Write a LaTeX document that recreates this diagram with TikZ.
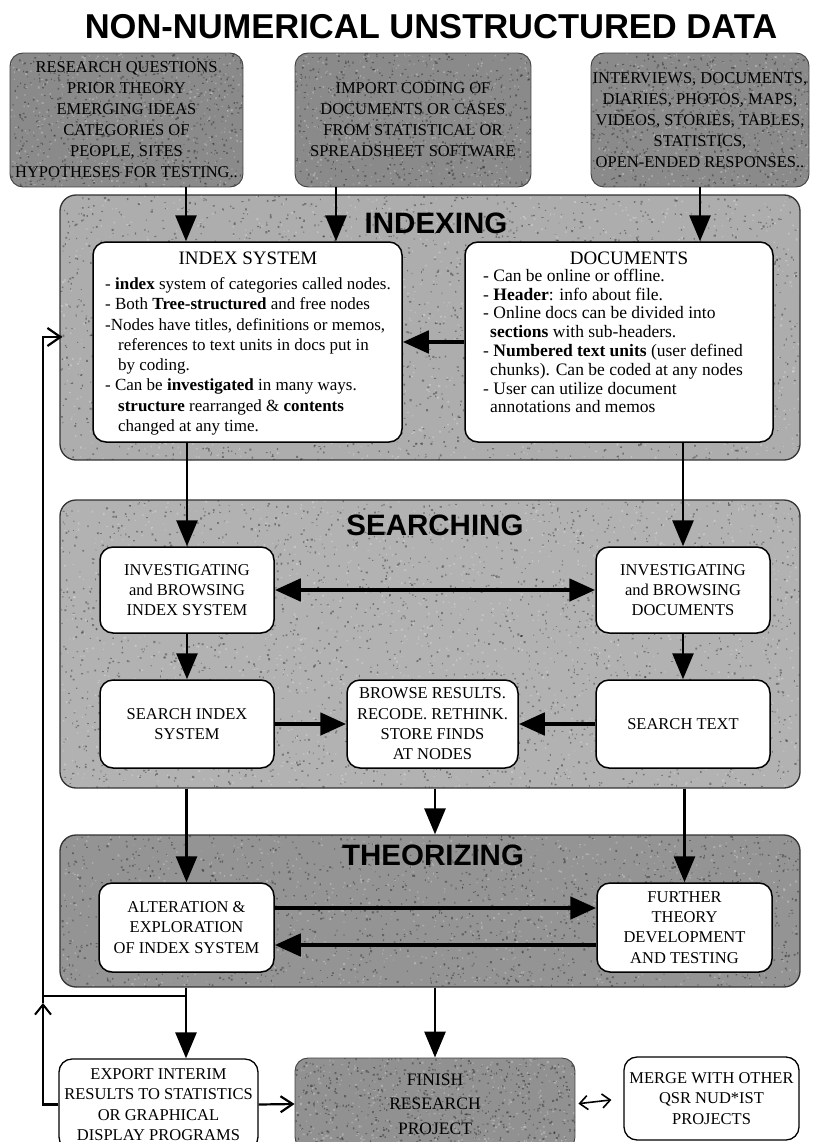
\documentclass[tikz,border=0pt]{standalone}
\usepackage{fontspec}
\setmainfont{Liberation Serif}
\newfontfamily\headfont{Liberation Sans}
\usetikzlibrary{arrows.meta,calc}

% fills
\definecolor{srcgray}{gray}{0.54}
\definecolor{idxgray}{gray}{0.68}
\definecolor{srchgray}{gray}{0.70}
\definecolor{thgray}{gray}{0.58}
\definecolor{fingray}{gray}{0.57}

% grainy halftone fill: corners (x0,y0) (x1,y1), colour, radius,
% batches of 200 dark specks, batches of 200 light specks
\newcommand\grainfill[8]{%
  \begin{scope}
    \clip[rounded corners=#6] (#1,#2) rectangle (#3,#4);
    \fill[#5] (#1,#2) rectangle (#3,#4);
    \foreach \c in {1,...,#7}{%
      \fill[black,opacity=0.34] \foreach \k in {1,...,200}
        {({#1+rnd*(#3-#1)},{#2+rnd*(#4-#2)}) rectangle ++({0.7+1.5*rnd},{0.7+1.5*rnd})};}
    \foreach \c in {1,...,#8}{%
      \fill[white,opacity=0.26] \foreach \k in {1,...,200}
        {({#1+rnd*(#3-#1)},{#2+rnd*(#4-#2)}) rectangle ++({0.7+1.5*rnd},{0.7+1.5*rnd})};}
  \end{scope}}

\begin{document}
\begin{tikzpicture}[x=1pt,y=-1pt,
  srcbox/.style={draw=black!75, line width=0.9pt, rounded corners=13pt,
    inner sep=0pt, align=center, font=\fontsize{16.5}{21}\selectfont},
  panel/.style={draw=black!80, line width=1.3pt, rounded corners=16pt, inner sep=0pt},
  card/.style={draw=black, line width=1.5pt, fill=white, rounded corners=13pt,
    inner sep=0pt, align=center, font=\fontsize{16.5}{20.3}\selectfont},
  heading/.style={font=\headfont\bfseries\fontsize{29.5}{30}\selectfont, inner sep=0pt},
  down/.style={line width=2.8pt, -{Triangle[length=26pt,width=21pt]}},
  fat/.style={line width=4.8pt, -{Triangle[length=26pt,width=22pt]}},
  fatboth/.style={line width=4.8pt, {Triangle[length=26pt,width=22pt]}-{Triangle[length=26pt,width=22pt]}},
  fb/.style={line width=2.2pt},
  barbend/.style={-{Straight Barb[length=10pt,width=16pt,line width=2pt]}},
]
\useasboundingbox (0,0) rectangle (812,1142);
\clip (0,0) rectangle (812,1142);
\pgfmathsetseed{12}

% column guides for the vertical flow lines
\coordinate (colL) at (186,0);
\coordinate (colM) at (336,0);
\coordinate (colC) at (435,0);

% title
\node[font=\headfont\bfseries\fontsize{34.5}{36}\selectfont, inner sep=0pt] (title) at (431,27)
  {NON-NUMERICAL UNSTRUCTURED DATA};

% shaded grounds
\grainfill{10}{53}{243}{187}{srcgray}{13pt}{3}{2}
\grainfill{295}{53}{531}{187}{srcgray}{13pt}{3}{2}
\grainfill{591}{53}{809}{187}{srcgray}{13pt}{3}{2}
\grainfill{60}{195}{800}{460}{idxgray}{16pt}{11}{6}
\grainfill{60}{500}{800}{788}{srchgray}{16pt}{12}{7}
\grainfill{60}{835}{800}{987}{thgray}{16pt}{7}{4}
\grainfill{295}{1058}{575}{1150}{fingray}{13pt}{3}{2}

% source boxes
\node[srcbox, minimum width=233pt, minimum height=134pt] (questions) at (126.5,120)
  {RESEARCH QUESTIONS\\PRIOR THEORY\\EMERGING IDEAS\\CATEGORIES OF\\PEOPLE, SITES\\HYPOTHESES FOR TESTING..};
\node[srcbox, minimum width=236pt, minimum height=134pt] (import) at (413,120)
  {IMPORT CODING OF\\DOCUMENTS OR CASES\\FROM STATISTICAL OR\\SPREADSHEET SOFTWARE};
\node[srcbox, minimum width=218pt, minimum height=134pt] (sources) at (700,120)
  {INTERVIEWS, DOCUMENTS,\\DIARIES, PHOTOS, MAPS,\\VIDEOS, STORIES, TABLES,\\STATISTICS,\\OPEN-ENDED RESPONSES..};

% section panels
\node[panel, minimum width=740pt, minimum height=265pt] (idxpanel) at (430,327.5) {};
\node[panel, minimum width=740pt, minimum height=288pt] (srchpanel) at (430,644) {};
\node[panel, minimum width=740pt, minimum height=152pt] (thpanel) at (430,911) {};

\node[heading] (idxhead) at (436,223) {INDEXING};
\node[heading] (srchhead) at (435,525) {SEARCHING};
\node[heading] (thhead) at (433,855) {THEORIZING};

% indexing
\node[card, minimum width=309pt, minimum height=200pt] (isys) at (247.5,342) {};
\node[card, minimum width=308pt, minimum height=200pt] (docs) at (619,342) {};

\node[anchor=north west, inner sep=0pt, align=left] (isystxt) at (105,250)
 {\fontsize{17}{20.3}\selectfont
  \begin{tabular}{@{}l@{}}
  \multicolumn{1}{@{}c@{}}{\fontsize{19}{20.3}\selectfont INDEX SYSTEM}\\[4.7pt]
  - \textbf{index} system of categories called nodes.\\
  - Both \textbf{Tree-structured} and free nodes\\
  -Nodes have titles, definitions or memos,\\
  \hspace*{13pt}references to text units in docs put in\\
  \hspace*{13pt}by coding.\\
  - Can be \textbf{investigated} in many ways.\\
  \hspace*{13pt}\textbf{structure} rearranged \& \textbf{contents}\\
  \hspace*{13pt}changed at any time.
  \end{tabular}};

\node[anchor=north west, inner sep=0pt, align=left] (docstxt) at (483,251)
 {\fontsize{17.5}{18.8}\selectfont
  \begin{tabular}{@{}l@{}}
  \multicolumn{1}{@{}c@{}}{\hspace*{32pt}\fontsize{19}{18.8}\selectfont DOCUMENTS}\\[-1.8pt]
  - Can be online or offline.\\
  - \textbf{Header}: info about file.\\
  - Online docs can be divided into\\
  \hspace*{7pt}\textbf{sections} with sub-headers.\\
  - \textbf{Numbered text units} (user defined\\
  \hspace*{7pt}chunks). Can be coded at any nodes\\
  - User can utilize document\\
  \hspace*{7pt}annotations and memos
  \end{tabular}};

% searching
\node[card, minimum width=174pt, minimum height=86pt] (ibis) at (187,590)
  {INVESTIGATING\\and BROWSING\\INDEX SYSTEM};
\node[card, minimum width=174pt, minimum height=86pt] (ibd) at (683,590)
  {INVESTIGATING\\and BROWSING\\DOCUMENTS};
\node[card, minimum width=174pt, minimum height=88pt] (sis) at (187,724)
  {SEARCH INDEX\\SYSTEM};
\node[card, minimum width=171pt, minimum height=88pt] (browse) at (432.5,724)
  {BROWSE RESULTS.\\RECODE. RETHINK.\\STORE FINDS\\AT NODES};
\node[card, minimum width=174pt, minimum height=88pt] (stext) at (683,724)
  {SEARCH TEXT};

% theorizing
\node[card, minimum width=175pt, minimum height=89pt] (alter) at (186.5,927.5)
  {ALTERATION \&\\EXPLORATION\\OF INDEX SYSTEM};
\node[card, minimum width=175pt, minimum height=89pt] (further) at (684.5,927.5)
  {FURTHER\\THEORY\\DEVELOPMENT\\AND TESTING};

% outcomes
\node[card, line width=1.3pt, minimum width=199pt, minimum height=91pt] (export) at (158.5,1104.5)
  {EXPORT INTERIM\\RESULTS TO STATISTICS\\OR GRAPHICAL\\DISPLAY PROGRAMS};
\node[srcbox, font=\fontsize{17.5}{24.5}\selectfont, minimum width=280pt, minimum height=92pt] (finish) at (435,1104)
  {FINISH\\RESEARCH\\PROJECT};
\node[card, line width=1.3pt, minimum width=175pt, minimum height=83pt] (merge) at (711.5,1098.5)
  {MERGE WITH OTHER\\QSR NUD*IST\\PROJECTS};

% flow into indexing
\draw[down] (questions.south -| colL) -- (isys.north -| colL);
\draw[down] (import.south -| colM) -- (isys.north -| colM);
\draw[down] (sources.south) -- (docs.north -| sources);
\draw[fat] (docs.west) -- (isys.east);

% flow into searching
\draw[down] (isys.south -| ibis) -- (ibis.north);
\draw[down] (docs.south -| ibd) -- (ibd.north);
\draw[fatboth] (ibis.east) -- (ibd.west);
\draw[down] (ibis.south) -- (sis.north);
\draw[down] (ibd.south) -- (stext.north);
\draw[fat] (sis.east) -- (browse.west);
\draw[fat] (stext.west) -- (browse.east);

% flow into theorizing
\draw[down] (srchpanel.south -| alter) -- (alter.north);
\draw[down] (srchpanel.south -| colC) -- (thpanel.north -| colC);
\draw[down] (srchpanel.south -| further) -- (further.north);
\draw[fat] ([yshift=19.5pt]alter.east) -- ([yshift=19.5pt]further.west);
\draw[fat] ([yshift=-17.5pt]further.west) -- ([yshift=-17.5pt]alter.east);

% outcomes
\coordinate (tap) at (186,996);
\coordinate (loopLow) at (43,1003);
\coordinate (loopTop) at (43,337);
\draw[down] (thpanel.south -| tap) -- (export.north -| tap);
\draw[down] (thpanel.south -| finish) -- (finish.north);
\draw[fb] (tap) -- (tap -| loopLow);
\draw[fb, barbend] (export.west) -- (export.west -| loopLow) -- (loopLow);
\draw[fb, line join=miter, -{Straight Barb[length=13pt,width=18pt,line width=2.2pt]}] (loopLow) -- (loopTop) -- ([xshift=3pt]loopTop -| idxpanel.west);
\draw[line width=2.2pt, -{Straight Barb[length=12pt,width=16pt,line width=2.2pt]}] (export.east) -- (finish.west);
\draw[line width=1.6pt, {Straight Barb[length=8pt,width=14pt,line width=1.6pt]}-{Straight Barb[length=8pt,width=14pt,line width=1.6pt]}, shorten <=3pt, shorten >=12pt] (finish.east) -- (merge.west);
\end{tikzpicture}
\end{document}
